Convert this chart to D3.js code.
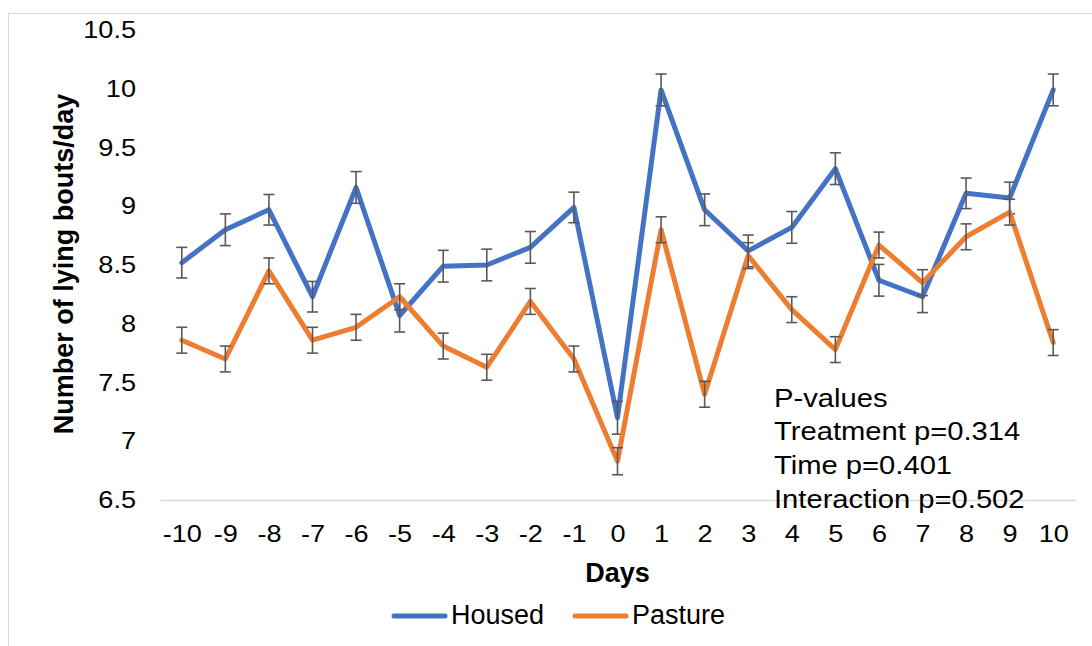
<!DOCTYPE html>
<html>
<head>
<meta charset="utf-8">
<script src="https://cdn.jsdelivr.net/npm/d3@7"></script>
<style>
  html, body { margin: 0; padding: 0; background: #fff; }
  svg { display: block; font-family: "Liberation Sans", Arial, sans-serif; }
</style>
</head>
<body>
<svg id="chart" width="1092" height="646"></svg>
<script>
const days = ["-10","-9","-8","-7","-6","-5","-4","-3","-2","-1","0","1","2","3","4","5","6","7","8","9","10"];
const housed = [8.52, 8.80, 8.97, 8.23, 9.16, 8.07, 8.49, 8.50, 8.65, 8.99, 7.20, 9.99, 8.97, 8.62, 8.82, 9.32, 8.37, 8.23, 9.11, 9.07, 9.99];
const housedErr = [0.13, 0.135, 0.13, 0.13, 0.135, 0.14, 0.135, 0.135, 0.135, 0.13, 0.14, 0.135, 0.135, 0.135, 0.135, 0.135, 0.135, 0.135, 0.13, 0.135, 0.135];
const pasture = [7.86, 7.70, 8.45, 7.86, 7.97, 8.23, 7.81, 7.63, 8.19, 7.70, 6.83, 8.80, 7.40, 8.58, 8.12, 7.78, 8.67, 8.35, 8.74, 8.95, 7.84];
const pastureErr = [0.11, 0.11, 0.11, 0.11, 0.11, 0.11, 0.11, 0.11, 0.11, 0.11, 0.115, 0.11, 0.11, 0.11, 0.11, 0.11, 0.11, 0.11, 0.11, 0.11, 0.11];
const yTicks = [6.5, 7, 7.5, 8, 8.5, 9, 9.5, 10, 10.5];
const seriesNames = ["Housed", "Pasture"];
const pLines = ["P-values", "Treatment p=0.314", "Time p=0.401", "Interaction p=0.502"];

const colors = ["#4472C4", "#ED7D31"];
const svg = d3.select("#chart");

// chart frame
svg.append("rect").attr("x", 8.5).attr("y", 13.5).attr("width", 1200).attr("height", 700)
  .attr("fill", "none").attr("stroke", "#d9d9d9").attr("stroke-width", 1);

const x = d3.scalePoint().domain(days).range([160, 1075]).padding(0.5);
const y = d3.scaleLinear().domain([6.5, 10.5]).range([500, 30]);

// Y axis
const yAxis = svg.append("g").attr("transform", "translate(160,0)")
  .call(d3.axisLeft(y).tickValues(yTicks).tickSize(0).tickPadding(0).tickFormat(d3.format("")));
yAxis.select(".domain").remove();
yAxis.selectAll("text")
  .attr("x", 0).attr("dy", "0.32em")
  .attr("transform", "translate(-24,0) scale(1.13,1)")
  .attr("font-size", 24).attr("font-family", "Liberation Sans, Arial, sans-serif")
  .attr("fill", "#000").attr("text-anchor", "end");

// X axis
const xAxis = svg.append("g").attr("transform", "translate(0,500)")
  .call(d3.axisBottom(x).tickSize(0).tickSizeOuter(0).tickPadding(0));
xAxis.select(".domain").attr("stroke", "#d9d9d9").attr("stroke-width", 1.3);
xAxis.selectAll("text")
  .attr("y", 24.7).attr("dy", "0.71em")
  .attr("transform", "scale(1.13,1)")
  .attr("font-size", 24).attr("font-family", "Liberation Sans, Arial, sans-serif")
  .attr("fill", "#000");

// axis titles
svg.append("text").attr("x", 617.5).attr("y", 582.3).attr("text-anchor", "middle")
  .attr("font-size", 27).attr("font-weight", "bold").attr("fill", "#000").text("Days");
svg.append("text").attr("transform", "translate(73,264) rotate(-90)").attr("text-anchor", "middle")
  .attr("font-size", 27).attr("font-weight", "bold").attr("fill", "#000").text("Number of lying bouts/day");

// series
const series = [
  { vals: housed, err: housedErr },
  { vals: pasture, err: pastureErr }
];
const line = d3.line().x((d, i) => x(days[i])).y(d => y(d));

series.forEach((s, k) => {
  svg.append("path").datum(s.vals).attr("d", line)
    .attr("fill", "none").attr("stroke", colors[k]).attr("stroke-width", 5)
    .attr("stroke-linejoin", "round").attr("stroke-linecap", "round");
  const eb = svg.append("g").attr("stroke", "#595959").attr("stroke-width", 1.6).attr("fill", "none");
  s.vals.forEach((v, i) => {
    const cx = x(days[i]);
    const y1 = y(v + s.err[i]), y2 = y(v - s.err[i]);
    eb.append("line").attr("x1", cx).attr("x2", cx).attr("y1", y1).attr("y2", y2);
    eb.append("line").attr("x1", cx - 5.5).attr("x2", cx + 5.5).attr("y1", y1).attr("y2", y1);
    eb.append("line").attr("x1", cx - 5.5).attr("x2", cx + 5.5).attr("y1", y2).attr("y2", y2);
  });
});

// p-values annotation
pLines.forEach((t, i) => {
  svg.append("text")
    .attr("transform", `translate(774,${406.7 + i * 33.7}) scale(1.14,1)`)
    .attr("font-size", 25.6).attr("fill", "#000").text(t);
});

// legend
const legX = [392, 573];
seriesNames.forEach((n, k) => {
  svg.append("line").attr("x1", legX[k] + 2).attr("x2", legX[k] + 53).attr("y1", 616).attr("y2", 616)
    .attr("stroke", colors[k]).attr("stroke-width", 5).attr("stroke-linecap", "round");
  svg.append("text").attr("x", legX[k] + 59).attr("y", 624.3)
    .attr("font-size", 27).attr("fill", "#000").text(n);
});
</script>
</body>
</html>
